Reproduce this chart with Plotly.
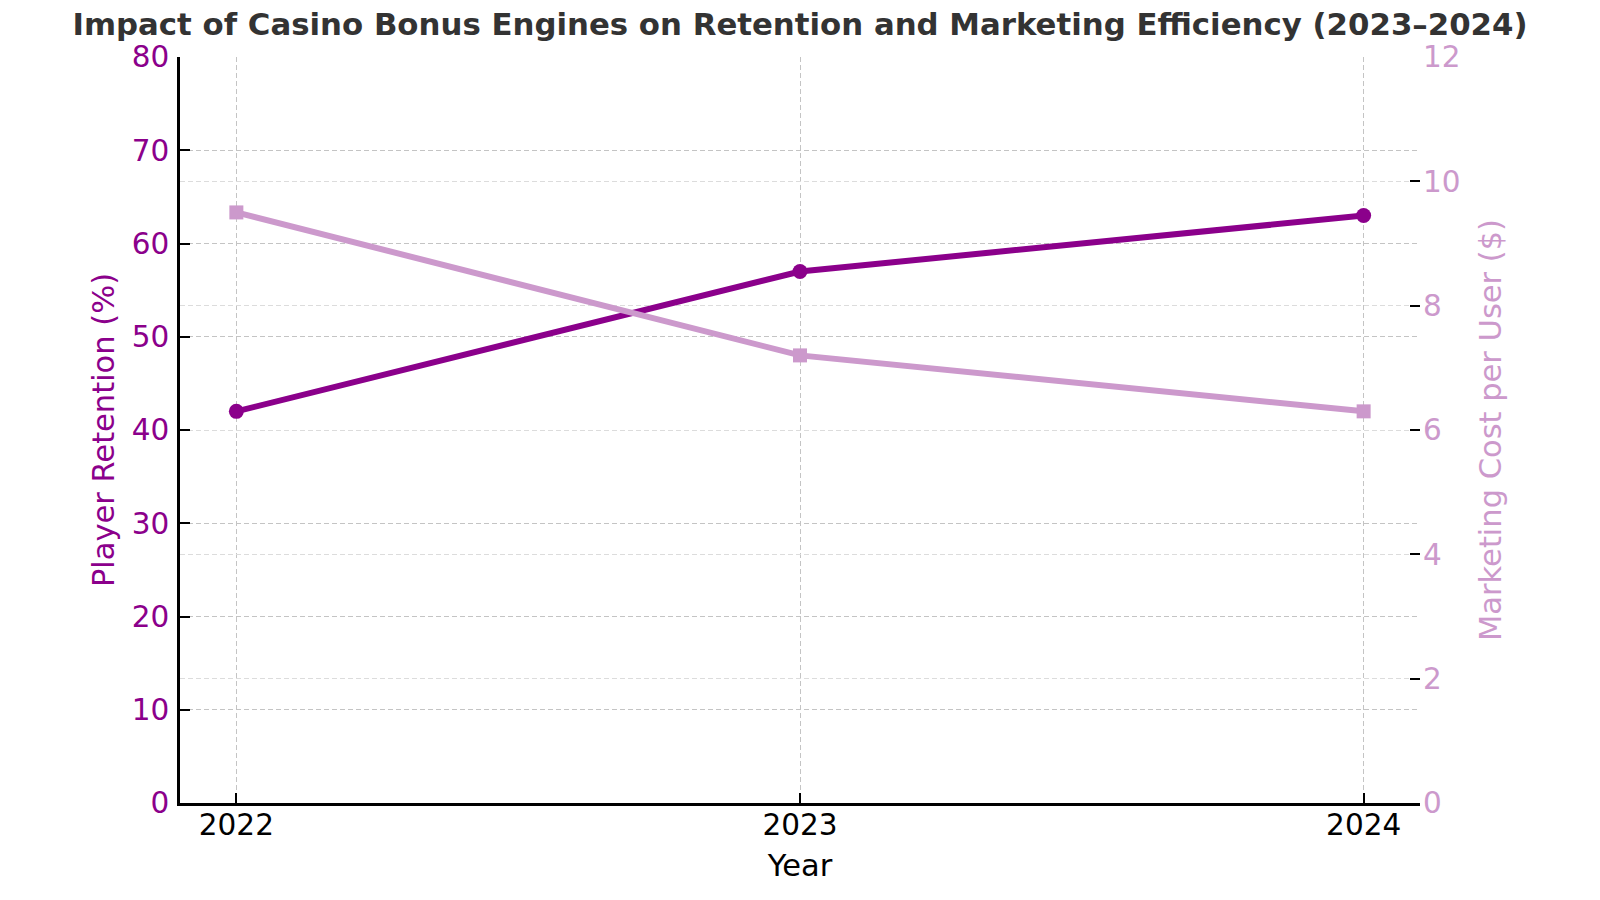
import plotly.graph_objects as go

years = [2022, 2023, 2024]
retention = [42, 57, 63]
marketing_cost = [9.5, 7.2, 6.3]
year_ticks = ["2022", "2023", "2024"]

DARK = "#8B008B"
LIGHT = "#CC99CC"
FONT = "DejaVu Sans"

fig = go.Figure()
fig.add_trace(go.Scatter(
    x=years, y=retention, mode="lines+markers", name="Player Retention (%)",
    line=dict(color=DARK, width=6), marker=dict(symbol="circle", size=15, color=DARK),
    yaxis="y", cliponaxis=False,
))
fig.add_trace(go.Scatter(
    x=years, y=marketing_cost, mode="lines+markers", name="Marketing Cost per User ($)",
    line=dict(color=LIGHT, width=6), marker=dict(symbol="square", size=14, color=LIGHT),
    yaxis="y2", cliponaxis=False,
))

fig.update_layout(
    width=1600, height=900,
    margin=dict(l=180, r=180, t=57, b=97),
    plot_bgcolor="white", paper_bgcolor="white",
    showlegend=False,
    font=dict(family=FONT, size=29.5, color="black"),
    title=dict(
        text="<b>Impact of Casino Bonus Engines on Retention and Marketing Efficiency (2023–2024)</b>",
        x=0.5, xanchor="center", y=0.973, yanchor="middle",
        font=dict(family=FONT, size=30.8, color="#333333"),
    ),
    xaxis=dict(
        range=[2021.9, 2024.1], tickmode="array", tickvals=years, ticktext=year_ticks,
        showline=True, linecolor="black", linewidth=2.5,
        ticks="inside", ticklen=10, tickwidth=2, tickcolor="black",
        showgrid=True, gridcolor="#c4c4c4", griddash="5px,3px", gridwidth=1.3,
        zeroline=False,
        title=dict(text="Year", font=dict(size=30.5, color="black"), standoff=14),
        tickfont=dict(size=29.5, color="black"),
        ticklabelstandoff=-6,
    ),
    yaxis=dict(
        range=[0, 80], tickmode="array", tickvals=list(range(0, 81, 10)),
        showline=True, linecolor="black", linewidth=2.5,
        ticks="inside", ticklen=10, tickwidth=2, tickcolor="black",
        showgrid=True, gridcolor="#c4c4c4", griddash="5px,3px", gridwidth=1.3,
        zeroline=False,
        title=dict(text="Player Retention (%)", font=dict(size=30.5, color=DARK), standoff=9),
        tickfont=dict(size=29.5, color=DARK),
        ticklabelstandoff=2,
    ),
    yaxis2=dict(
        range=[0, 12], tickmode="array", tickvals=list(range(0, 13, 2)),
        overlaying="y", side="right", anchor="x",
        showline=False,
        ticks="inside", ticklen=10, tickwidth=2, tickcolor="black",
        showgrid=True, gridcolor="#dcdcdc", griddash="5px,3px", gridwidth=1,
        zeroline=False,
        title=dict(text="Marketing Cost per User ($)", font=dict(size=30.5, color=LIGHT), standoff=20),
        tickfont=dict(size=29.5, color=LIGHT),
        ticklabelstandoff=2,
    ),
)

fig.write_html("out.html")
